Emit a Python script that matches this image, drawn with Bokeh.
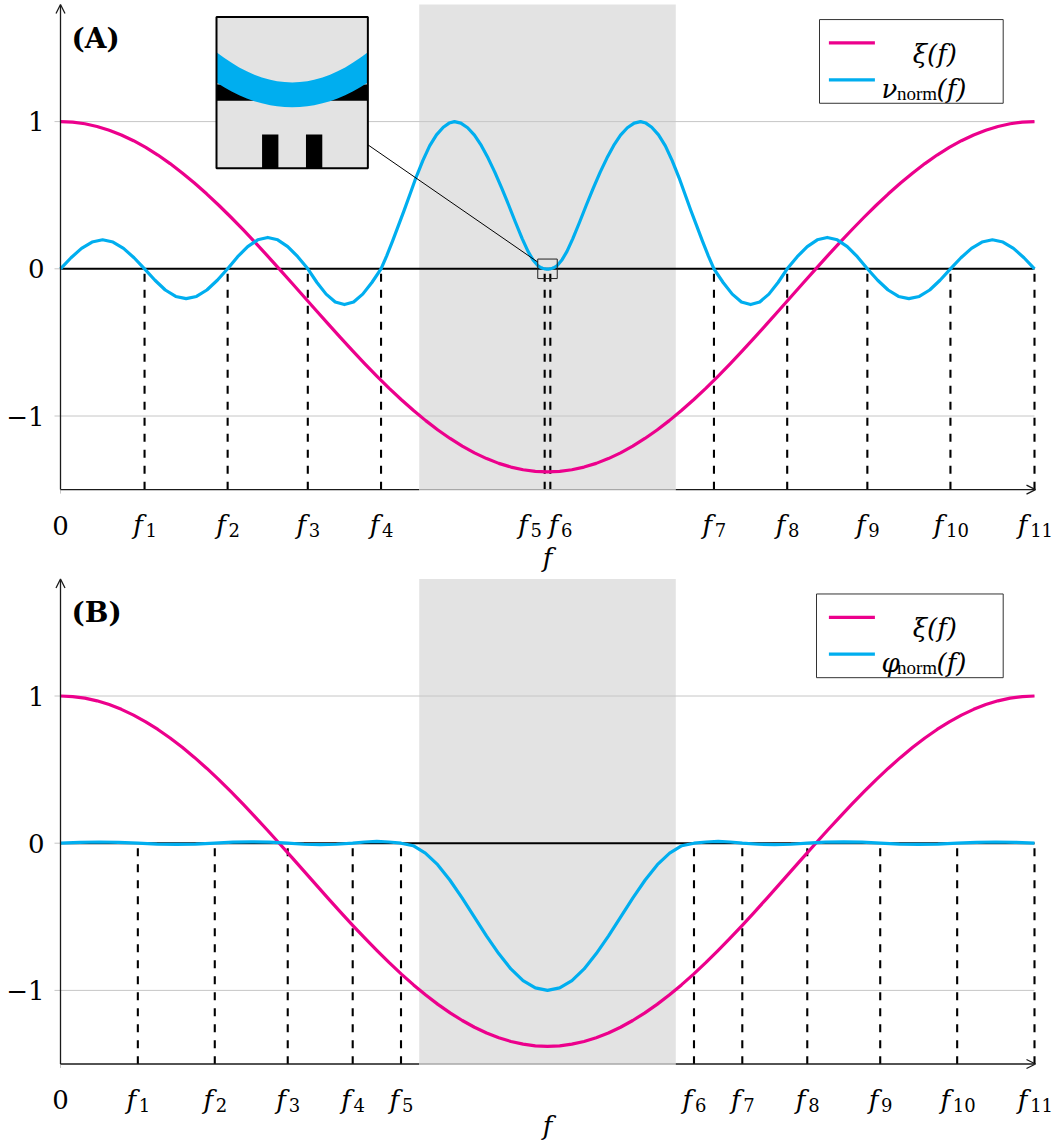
import numpy as np
from bokeh.plotting import figure
from bokeh.layouts import column
from bokeh.models import Range1d, Label, Arrow, OpenHead
from bokeh.embed import file_html
from bokeh.resources import INLINE

# ---------------------------------------------------------------- data
# frequency axis is normalised so that f11 = 1
xi_f = [0.0000, 0.0125, 0.0250, 0.0375, 0.0500, 0.0625, 0.0750, 0.0875, 0.1000, 0.1125,
        0.1250, 0.1375, 0.1500, 0.1625, 0.1750, 0.1875, 0.2000, 0.2125, 0.2250, 0.2375,
        0.2500, 0.2625, 0.2750, 0.2875, 0.3000, 0.3125, 0.3250, 0.3375, 0.3500, 0.3625,
        0.3750, 0.3875, 0.4000, 0.4125, 0.4250, 0.4375, 0.4500, 0.4625, 0.4750, 0.4875,
        0.5000, 0.5125, 0.5250, 0.5375, 0.5500, 0.5625, 0.5750, 0.5875, 0.6000, 0.6125,
        0.6250, 0.6375, 0.6500, 0.6625, 0.6750, 0.6875, 0.7000, 0.7125, 0.7250, 0.7375,
        0.7500, 0.7625, 0.7750, 0.7875, 0.8000, 0.8125, 0.8250, 0.8375, 0.8500, 0.8625,
        0.8750, 0.8875, 0.9000, 0.9125, 0.9250, 0.9375, 0.9500, 0.9625, 0.9750, 0.9875, 1.0000]
xi_values = [1.0, 0.9963, 0.9853, 0.9671, 0.9418, 0.9094, 0.8703, 0.8246, 0.7727, 0.7149,
             0.6515, 0.5828, 0.5095, 0.4318, 0.3502, 0.2654, 0.1777, 0.0878, -0.0038, -0.0966,
             -0.19, -0.2834, -0.3762, -0.4678, -0.5577, -0.6454, -0.7302, -0.8118, -0.8895, -0.9628,
             -1.0315, -1.0949, -1.1527, -1.2046, -1.2503, -1.2894, -1.3218, -1.3471, -1.3653, -1.3763,
             -1.38, -1.3763, -1.3653, -1.3471, -1.3218, -1.2894, -1.2503, -1.2046, -1.1527, -1.0949,
             -1.0315, -0.9628, -0.8895, -0.8118, -0.7302, -0.6454, -0.5577, -0.4678, -0.3762, -0.2834,
             -0.19, -0.0966, -0.0038, 0.0878, 0.1777, 0.2654, 0.3502, 0.4318, 0.5095, 0.5828,
             0.6515, 0.7149, 0.7727, 0.8246, 0.8703, 0.9094, 0.9418, 0.9671, 0.9853, 0.9963, 1.0]

nu_f = [0.0, 0.0108, 0.0216, 0.0324, 0.0432, 0.0539, 0.0647, 0.0755, 0.0863,
        0.0970, 0.1076, 0.1183, 0.1290, 0.1396, 0.1503, 0.1610, 0.1716,
        0.1819, 0.1922, 0.2025, 0.2128, 0.2230, 0.2333, 0.2436, 0.2539,
        0.2633, 0.2727, 0.2821, 0.2915, 0.3009, 0.3103, 0.3197, 0.3291,
        0.3350, 0.3410, 0.3470, 0.3530, 0.3590, 0.3650, 0.3720, 0.3790, 0.3860, 0.3930, 0.3990, 0.4045,
        0.4110, 0.4180, 0.4250, 0.4320, 0.4390, 0.4460, 0.4530, 0.4600, 0.4670, 0.4740, 0.4800, 0.4850, 0.4900,
        0.4910, 0.4920, 0.4930, 0.4940, 0.4950, 0.4960, 0.4971, 0.4980, 0.4990, 0.5000,
        0.5010, 0.5020, 0.5029, 0.5040, 0.5050, 0.5060, 0.5070, 0.5080, 0.5090, 0.5100,
        0.5150, 0.5200, 0.5260, 0.5330, 0.5400, 0.5470, 0.5540, 0.5610, 0.5680, 0.5750, 0.5820, 0.5890, 0.5955,
        0.6010, 0.6070, 0.6140, 0.6210, 0.6280, 0.6350, 0.6410, 0.6470, 0.6530, 0.6590, 0.6650, 0.6709,
        0.6803, 0.6897, 0.6991, 0.7085, 0.7179, 0.7273, 0.7367, 0.7461,
        0.7564, 0.7667, 0.7770, 0.7872, 0.7975, 0.8078, 0.8181, 0.8284,
        0.8390, 0.8497, 0.8604, 0.8710, 0.8817, 0.8924, 0.9030, 0.9137,
        0.9245, 0.9353, 0.9461, 0.9568, 0.9676, 0.9784, 0.9892, 1.0]
nu_values = [0.0, 0.075, 0.139, 0.182, 0.197, 0.182, 0.139, 0.075, 0.0,
             -0.078, -0.144, -0.188, -0.203, -0.188, -0.144, -0.078, 0.0,
             0.082, 0.151, 0.197, 0.213, 0.197, 0.151, 0.082, 0.0,
             -0.093, -0.172, -0.225, -0.243, -0.225, -0.172, -0.093, 0.0,
             0.090, 0.190, 0.295, 0.400, 0.510, 0.620, 0.735, 0.835, 0.910, 0.962, 0.990, 1.000,
             0.990, 0.958, 0.908, 0.838, 0.752, 0.655, 0.548, 0.435, 0.318, 0.205, 0.118, 0.062, 0.022,
             0.0175, 0.0134, 0.0098, 0.0067, 0.0040, 0.0019, 0.0, -0.0010, -0.0017, -0.0020,
             -0.0017, -0.0010, 0.0, 0.0019, 0.0040, 0.0067, 0.0098, 0.0134, 0.0175, 0.022,
             0.062, 0.118, 0.205, 0.318, 0.435, 0.548, 0.655, 0.752, 0.838, 0.908, 0.958, 0.990, 1.000,
             0.990, 0.962, 0.910, 0.835, 0.735, 0.620, 0.510, 0.400, 0.295, 0.190, 0.090, 0.0,
             -0.093, -0.172, -0.225, -0.243, -0.225, -0.172, -0.093, 0.0,
             0.082, 0.151, 0.197, 0.213, 0.197, 0.151, 0.082, 0.0,
             -0.078, -0.144, -0.188, -0.203, -0.188, -0.144, -0.078, 0.0,
             0.075, 0.139, 0.182, 0.197, 0.182, 0.139, 0.075, 0.0]

phi_f = [0.0, 0.0199, 0.0397, 0.0596, 0.0794,
         0.0992, 0.1189, 0.1387, 0.1584,
         0.1771, 0.1959, 0.2146, 0.2333,
         0.2500, 0.2667, 0.2833, 0.3000,
         0.3124, 0.3248, 0.3372, 0.3496,
         0.3621, 0.3746, 0.3872, 0.3997, 0.4123, 0.4248, 0.4373, 0.4499, 0.4624, 0.4749, 0.4875, 0.5000,
         0.5125, 0.5251, 0.5376, 0.5501, 0.5627, 0.5752, 0.5877, 0.6003, 0.6128, 0.6254, 0.6379, 0.6504,
         0.6628, 0.6752, 0.6876, 0.7000,
         0.7167, 0.7333, 0.7500, 0.7667,
         0.7854, 0.8041, 0.8229, 0.8416,
         0.8614, 0.8811, 0.9008, 0.9206,
         0.9404, 0.9603, 0.9801, 1.0]
phi_values = [0.0, 0.006, 0.008, 0.006, 0.0,
              -0.006, -0.008, -0.006, 0.0,
              0.007, 0.009, 0.007, 0.0,
              -0.007, -0.010, -0.007, 0.0,
              0.008, 0.012, 0.008, 0.0,
              -0.017, -0.067, -0.146, -0.250, -0.371, -0.500, -0.629, -0.750, -0.854, -0.933, -0.983, -1.000,
              -0.983, -0.933, -0.854, -0.750, -0.629, -0.500, -0.371, -0.250, -0.146, -0.067, -0.017, 0.0,
              0.008, 0.012, 0.008, 0.0,
              -0.007, -0.010, -0.007, 0.0,
              0.007, 0.009, 0.007, 0.0,
              -0.006, -0.008, -0.006, 0.0,
              0.006, 0.008, 0.006, 0.0]

# marked frequencies f1 ... f11 (zeros of the blue curve)
nu_marks = [0.0863, 0.1716, 0.2539, 0.3291, 0.4971, 0.5029, 0.6709, 0.7461, 0.8284, 0.9137, 1.0]
phi_marks = [0.0794, 0.1584, 0.2333, 0.3000, 0.3496, 0.6504, 0.7000, 0.7667, 0.8416, 0.9206, 1.0]
mark_subscripts = ["1", "2", "3", "4", "5", "6", "7", "8", "9", "10", "11"]

y_ticks = [-1, 0, 1]
y_tick_text = ["\u22121", "0", "1"]
shaded_band = [0.3683, 0.6317]

assert len(xi_f) == len(xi_values)
assert len(nu_f) == len(nu_values)
assert len(phi_f) == len(phi_values)

# ---------------------------------------------------------------- style
MAGENTA = "#EC008C"
CYAN = "#00AEEF"
SHADE = "#E3E3E3"
GRID = "#C6C6C6"
INK = "#1A1A1A"
SERIF = "DejaVu Serif"
SUB_SERIF = "Liberation Serif"

W = 1057
AXIS_LEFT_PX = 60.0       # canvas x of f = 0
PPX = 974.0               # pixels per unit of f
PPY = 147.2               # pixels per unit of y
X0, X1 = 0.0, 1.0         # extent of the frequency axis
Y0, Y1 = -1.5, 1.795      # extent of the vertical axis

CURVE_W = 3.2
ZERO_W = 2.1
DASH_W = 2.1
DASH_ON, DASH_OFF, DASH_LEAD = 8, 8, 5   # px; pattern starts with a gap


def label(p, x, y, text, size="26px", style="italic", align="left", x_offset=0,
          baseline="alphabetic", font=SERIF):
    p.add_layout(Label(x=x, y=y, x_offset=x_offset, text=text, text_font=font,
                       text_font_size=size, text_font_style=style, text_align=align,
                       text_baseline=baseline, text_color="black"))


def arrow(p, x0, y0, x1, y1, color, width=1.3, head=False):
    p.add_layout(Arrow(x_start=x0, y_start=y0, x_end=x1, y_end=y1, line_color=color,
                       line_width=width,
                       end=OpenHead(size=9, line_color=color, line_width=width) if head else None))


def panel(tag, curve_f, curve_v, marks, greek, height, zero_py, anchors, title_drop, with_inset):
    # the plotting frame covers the whole canvas; axes are drawn by hand
    xr = Range1d(-AXIS_LEFT_PX / PPX, (W - AXIS_LEFT_PX) / PPX)
    yr = Range1d((zero_py - height) / PPY, zero_py / PPY)
    p = figure(width=W, height=height, x_range=xr, y_range=yr,
               output_backend="svg", toolbar_location=None,
               x_axis_location=None, y_axis_location=None,
               min_border=0, min_border_left=0, min_border_right=0,
               min_border_top=0, min_border_bottom=0)
    p.outline_line_color = None
    p.grid.grid_line_color = None
    p.background_fill_color = "white"
    p.border_fill_color = "white"

    # shaded frequency band, grid, marker lines
    p.quad(left=[shaded_band[0]], right=[shaded_band[1]], bottom=[Y0], top=[Y1],
           fill_color=SHADE, line_color=None)
    gy = [t for t in y_ticks if t != 0]
    p.segment(x0=[X0] * len(gy), y0=gy, x1=[X1] * len(gy), y1=gy, line_color=GRID, line_width=1)
    p.segment(x0=[X0 - 6 / PPX] * len(y_ticks), y0=y_ticks, x1=[X0] * len(y_ticks), y1=y_ticks,
              line_color=GRID, line_width=1)
    p.segment(x0=marks, y0=[0] * len(marks), x1=marks, y1=[Y0] * len(marks),
              line_color="black", line_width=DASH_W,
              line_dash=f"{DASH_ON} {DASH_OFF}",
              line_dash_offset=DASH_ON + DASH_OFF - DASH_LEAD)
    p.segment(x0=[X0], y0=[0], x1=[X1], y1=[0], line_color="black", line_width=ZERO_W)

    p.line(xi_f, xi_values, line_color=MAGENTA, line_width=CURVE_W, line_join="round")
    p.line(curve_f, curve_v, line_color=CYAN, line_width=CURVE_W, line_join="round")

    # axes with arrow heads
    arrow(p, 0, Y0 - 4 / PPY, 0, Y0, GRID, width=1)
    arrow(p, 0, Y0, 0, Y1, INK, head=True)
    arrow(p, X0, Y0, shaded_band[0], Y0, INK)
    arrow(p, shaded_band[0], Y0, shaded_band[1], Y0, "#A8A8A8")
    arrow(p, shaded_band[1], Y0, X1 + 1 / PPX, Y0, INK, head=True)

    # tick labels
    for t, s in zip(y_ticks, y_tick_text):
        label(p, X0, t, s, style="normal", align="right", x_offset=-16, baseline="middle")
    label(p, 0, Y0 - 35.5 / PPY, "0", style="normal", align="center")
    for fx, sub, anc in zip(marks, mark_subscripts, anchors):
        w_f, w_s = 12.3, 10.5 * len(sub)
        total = w_f + w_s
        if anc == "e":
            left = -3.7 - total
        elif anc == "w":
            left = -1.6
        else:
            left = -total / 2
        label(p, fx, Y0 - 35.5 / PPY, "f", x_offset=left)
        label(p, fx, Y0 - 40.5 / PPY, sub, size="18px", style="normal", x_offset=left + w_f)
    label(p, 0.5 * (X0 + X1), Y0 - title_drop / PPY, "f", align="center")

    # panel tag
    label(p, 0, Y1 - 34 / PPY, tag, size="28px", style="bold", x_offset=11)

    # legend
    lx0 = X1 - (215 + (3 if greek == "\u03c6" else 0)) / PPX
    lx1 = X1 - 31.3 / PPX
    p.quad(left=[lx0], right=[lx1], top=[Y1 - 15 / PPY], bottom=[Y1 - 98.7 / PPY],
           fill_color="white", line_color="#333333", line_width=1)
    sx0 = X1 - 205.6 / PPX
    sx1 = X1 - 159.6 / PPX
    p.segment(x0=[sx0, sx0], x1=[sx1, sx1], y0=[Y1 - 38.3 / PPY, Y1 - 75.2 / PPY],
              y1=[Y1 - 38.3 / PPY, Y1 - 75.2 / PPY], line_color=[MAGENTA, CYAN], line_width=CURVE_W)
    label(p, X1 - 99.6 / PPX, Y1 - 49.5 / PPY, "\u03be(f)", align="center")
    label(p, X1 - 153 / PPX, Y1 - 84.5 / PPY, greek)
    label(p, X1 - 137.5 / PPX, Y1 - 88.5 / PPY, "norm", size="19px", style="normal", font=SUB_SERIF)
    label(p, X1 - 98 / PPX, Y1 - 84.5 / PPY, "(f)")

    if with_inset:
        draw_inset(p, curve_f, curve_v, marks)
    return p


def draw_inset(p, curve_f, curve_v, marks):
    cx, cy = 0.5, 0.0
    hx = 0.01
    hy = hx * PPX / PPY
    zoom = 7.77
    ix0 = X0 + 156.0 / PPX
    iy1 = Y1 - 12.3 / PPY
    ix1 = ix0 + 2 * hx * zoom
    iy0 = iy1 - 2 * hy * zoom

    def mx(x):
        return ix0 + (np.asarray(x, dtype=float) - (cx - hx)) * zoom

    def my(y):
        return iy0 + (np.asarray(y, dtype=float) - (cy - hy)) * zoom

    p.quad(left=[ix0], right=[ix1], bottom=[iy0], top=[iy1], fill_color=SHADE, line_color=None)
    # magnified zero line
    zh = ZERO_W * zoom / 2 / PPY
    p.quad(left=[ix0], right=[ix1], bottom=[float(my(0)) - zh], top=[float(my(0)) + zh],
           fill_color="black", line_color=None)
    # magnified dashes of the marker lines
    depth = hy * PPY
    bl, br, bb, bt = [], [], [], []
    for fx in marks:
        if not (cx - hx <= fx <= cx + hx):
            continue
        start = DASH_LEAD + 0.4
        while start < depth:
            end = min(start + DASH_ON, depth)
            bl.append(float(mx(fx)) - DASH_W * zoom / 2 / PPX)
            br.append(float(mx(fx)) + DASH_W * zoom / 2 / PPX)
            bt.append(float(my(-start / PPY)))
            bb.append(float(my(-end / PPY)))
            start += DASH_ON + DASH_OFF
    p.quad(left=bl, right=br, bottom=bb, top=bt, fill_color="black", line_color=None)
    # magnified curve drawn as a band of constant thickness
    f = np.asarray(curve_f, dtype=float)
    v = np.asarray(curve_v, dtype=float)
    sel = (f >= cx - hx - 1e-9) & (f <= cx + hx + 1e-9)
    fs, vs = f[sel], v[sel]
    slope = np.gradient(vs, fs) * PPY / PPX
    half = CURVE_W * zoom / 2 * np.sqrt(1 + slope ** 2) / PPY
    yc = my(vs)
    p.varea(x=mx(fs), y1=yc - half, y2=yc + half, fill_color=CYAN)
    # frame of the inset, spy window and connector
    p.quad(left=[ix0], right=[ix1], bottom=[iy0], top=[iy1], fill_color=None,
           line_color="black", line_width=2)
    p.quad(left=[cx - hx], right=[cx + hx], bottom=[cy - hy], top=[cy + hy], fill_color=None,
           line_color="#222222", line_width=1)
    a = np.array([cx * PPX, cy * PPY])
    b = np.array([(ix0 + ix1) / 2 * PPX, (iy0 + iy1) / 2 * PPY])
    d = b - a
    hs = hx * PPX
    hi = (ix1 - ix0) / 2 * PPX
    t1 = min(hs / abs(d[0]), hs / abs(d[1]))
    t2 = min(hi / abs(d[0]), hi / abs(d[1]))
    pa_ = a + d * t1
    pb_ = b - d * t2
    p.segment(x0=[pa_[0] / PPX], y0=[pa_[1] / PPY], x1=[pb_[0] / PPX], y1=[pb_[1] / PPY],
              line_color="black", line_width=1)


anchors_a = ["c", "c", "c", "c", "e", "w", "c", "c", "c", "c", "c"]
anchors_b = ["c"] * 11

pa = panel("(A)", nu_f, nu_values, nu_marks, "\u03bd", 574, 268.3, anchors_a, 68, True)
pb = panel("(B)", phi_f, phi_values, phi_marks, "\u03c6", 569, 268.7, anchors_b, 62, False)

layout = column(pa, pb, spacing=0)
open("out.html", "w").write(file_html(layout, INLINE))
